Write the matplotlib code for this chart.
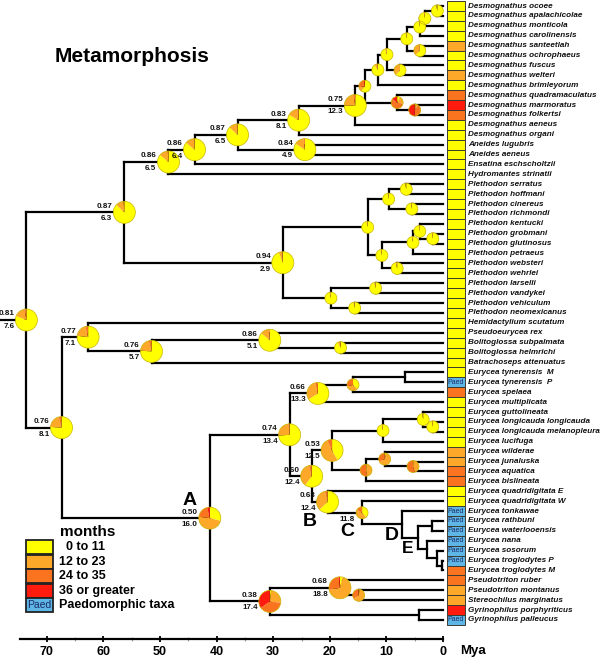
import matplotlib
matplotlib.use("Agg")
import matplotlib.pyplot as plt
import matplotlib.transforms as mtransforms
from matplotlib.patches import Wedge, Circle, Rectangle
from matplotlib.collections import LineCollection

plt.rcParams['font.family'] = ['Liberation Sans', 'DejaVu Sans']

# ---------------- data ----------------
TAXA = [
    "Desmognathus ocoee", "Desmognathus apalachicolae", "Desmognathus monticola",
    "Desmognathus carolinensis", "Desmognathus santeetlah", "Desmognathus ochrophaeus",
    "Desmognathus fuscus", "Desmognathus welteri", "Desmognathus brimleyorum",
    "Desmognathus quadramaculatus", "Desmognathus marmoratus", "Desmognathus folkertsi",
    "Desmognathus aeneus", "Desmognathus organi", "Aneides lugubris", "Aneides aeneus",
    "Ensatina eschscholtzii", "Hydromantes strinatii", "Plethodon serratus",
    "Plethodon hoffmani", "Plethodon cinereus", "Plethodon richmondi", "Plethodon kentucki",
    "Plethodon grobmani", "Plethodon glutinosus", "Plethodon petraeus", "Plethodon websteri",
    "Plethodon wehrlei", "Plethodon larselli", "Plethodon vandykei", "Plethodon vehiculum",
    "Plethodon neomexicanus", "Hemidactylium scutatum", "Pseudoeurycea rex",
    "Bolitoglossa subpalmata", "Bolitoglossa helmrichi", "Batrachoseps attenuatus",
    "Eurycea tynerensis  M", "Eurycea tynerensis  P", "Eurycea spelaea",
    "Eurycea multiplicata", "Eurycea guttolineata", "Eurycea longicauda longicauda",
    "Eurycea longicauda melanopleura", "Eurycea lucifuga", "Eurycea wilderae",
    "Eurycea junaluska", "Eurycea aquatica", "Eurycea bislineata",
    "Eurycea quadridigitata E", "Eurycea quadridigitata W", "Eurycea tonkawae",
    "Eurycea rathbuni", "Eurycea waterlooensis", "Eurycea nana", "Eurycea sosorum",
    "Eurycea troglodytes P", "Eurycea troglodytes M", "Pseudotriton ruber",
    "Pseudotriton montanus", "Stereochilus marginatus", "Gyrinophilus porphyriticus",
    "Gyrinophilus palleucus",
]

# 0: 0-11, 1: 12-23, 2: 24-35, 3: 36+, 4: paedomorphic
TIP_STATE = [0, 0, 0, 0, 1, 0, 0, 1, 0, 2, 3, 2, 0, 0, 0, 0, 0, 0,
             0, 0, 0, 0, 0, 0, 0, 0, 0, 0, 0, 0, 0, 0,
             0, 0, 0, 0, 0, 0, 4, 2, 0, 0, 0, 0, 0, 1, 1, 2, 2, 0, 0,
             4, 4, 4, 4, 4, 4, 2, 2, 1, 1, 3, 4]

# tree topology: internal node -> children (int = tip row, str = internal node)
CHILDREN = {
    "d1": [0, 1], "d2": ["d1", 2], "d3": ["d2", 3], "d4": [4, 5], "d5": ["d3", "d4"],
    "d6": [6, 7], "d7": ["d5", "d6"], "d8": ["d7", 8], "d9": [10, 11], "d10": [9, "d9"],
    "d11": ["d8", "d10"], "d12": ["d11", 12], "d13": ["d12", 13], "an": [14, 15],
    "d14": ["d13", "an"], "d15": ["d14", 16], "d16": ["d15", 17],
    "p1": [18, 19], "p2": [20, 21], "p3": ["p1", "p2"], "p4": [23, 24], "p5": [22, "p4"],
    "p6": ["p5", 25], "p7": [26, 27], "p8": ["p6", "p7"], "p9": ["p3", "p8"],
    "p10": [28, 29], "p11": [30, 31], "p12": ["p10", "p11"], "p13": ["p9", "p12"],
    "t1": ["d16", "p13"],
    "b1": [34, 35], "b2": [33, "b1"], "b3": ["b2", 36], "b4": [32, "b3"],
    "e1": [37, 38], "e2": ["e1", 39], "e3": ["e2", 40], "e4": [42, 43], "e5": [41, "e4"],
    "e6": ["e5", 44], "e7": [46, 47], "e8": [45, "e7"], "e9": ["e8", 48],
    "e10": ["e6", "e9"], "e11": [56, 57], "e12": [55, "e11"], "e13": [54, "e12"],
    "e14": [52, 53], "e15": ["e14", "e13"], "e16": [51, "e15"], "e17": [50, "e16"],
    "e18": [49, "e17"], "e19": ["e10", "e18"], "e20": ["e3", "e19"],
    "s1": [59, 60], "s2": [58, "s1"], "g1": [61, 62], "s3": ["s2", "g1"],
    "A": ["e20", "s3"], "b5": ["b4", "A"], "root": ["t1", "b5"],
}

NODE_AGE = {
    "d1": 1.0, "d2": 3.2, "d3": 4.1, "d4": 4.1, "d5": 6.4, "d6": 7.6, "d7": 9.9,
    "d8": 11.5, "d9": 5.0, "d10": 8.1, "d11": 13.8, "d12": 15.5, "d13": 25.5,
    "an": 24.4, "d14": 36.3, "d15": 43.9, "d16": 48.5,
    "p1": 6.5, "p2": 5.5, "p3": 9.6, "p4": 1.8, "p5": 4.1, "p6": 5.3, "p7": 8.1,
    "p8": 10.8, "p9": 13.3, "p10": 11.9, "p11": 15.6, "p12": 19.8, "p13": 28.3,
    "t1": 56.3, "b1": 18.1, "b2": 30.6, "b3": 51.5, "b4": 62.7,
    "e1": 6.7, "e2": 15.9, "e3": 22.1, "e4": 1.8, "e5": 3.5, "e6": 10.6, "e7": 5.3,
    "e8": 10.3, "e9": 13.6, "e10": 19.6, "e11": 0.2, "e12": 1.1, "e13": 2.8,
    "e14": 1.9, "e15": 4.4, "e16": 7.3, "e17": 14.3, "e18": 20.4, "e19": 23.2,
    "e20": 27.1, "s1": 14.9, "s2": 18.2, "g1": 4.2, "s3": 30.6, "A": 41.2,
    "b5": 67.4, "root": 73.6,
}

# ancestral state probabilities: [0-11, 12-23, 24-35, 36+]
NODE_PIE = {
    "root": [.81, .16, .03, 0], "t1": [.87, .12, .01, 0], "d16": [.86, .13, .01, 0],
    "d15": [.86, .13, .01, 0], "d14": [.87, .12, .01, 0], "d13": [.83, .15, .02, 0],
    "an": [.84, .14, .02, 0], "d12": [.75, .22, .03, 0], "d11": [.60, .12, .25, .03],
    "d10": [.08, .20, .57, .15], "d9": [.03, .07, .40, .50], "d8": [.90, .09, .01, 0],
    "d7": [.95, .05, 0, 0], "d6": [.62, .38, 0, 0], "d5": [.97, .03, 0, 0],
    "d4": [.62, .38, 0, 0], "d3": [.97, .03, 0, 0], "d2": [.97, .03, 0, 0],
    "d1": [.97, .03, 0, 0],
    "p13": [.94, .05, .01, 0], "p12": [.96, .04, 0, 0], "p11": [.96, .04, 0, 0],
    "p10": [.96, .04, 0, 0], "p9": [.97, .03, 0, 0], "p8": [.97, .03, 0, 0],
    "p7": [.96, .04, 0, 0], "p6": [.97, .03, 0, 0], "p5": [.97, .03, 0, 0],
    "p4": [.97, .03, 0, 0], "p3": [.97, .03, 0, 0], "p2": [.97, .03, 0, 0],
    "p1": [.97, .03, 0, 0],
    "b5": [.76, .20, .04, 0], "b4": [.77, .19, .04, 0], "b3": [.76, .20, .04, 0],
    "b2": [.86, .13, .01, 0], "b1": [.92, .07, .01, 0],
    "A": [.29, .48, .19, .04], "e20": [.74, .24, .02, 0], "e3": [.66, .30, .04, 0],
    "e2": [.37, .33, .30, 0], "e19": [.60, .36, .04, 0], "e10": [.42, .51, .07, 0],
    "e6": [.97, .03, 0, 0], "e5": [.97, .03, 0, 0], "e4": [.97, .03, 0, 0],
    "e9": [.02, .45, .53, 0], "e8": [.04, .64, .32, 0], "e7": [.02, .43, .55, 0],
    "e18": [.63, .33, .04, 0], "e17": [.38, .45, .17, 0],
    "s3": [.02, .25, .38, .35], "s2": [.04, .68, .26, .02], "s1": [.03, .62, .33, .02],
}

# support / age labels (top, bottom)
NODE_LABEL = {
    "root": ("0.81", "7.6"), "t1": ("0.87", "6.3"), "d16": ("0.86", "6.5"),
    "d15": ("0.86", "6.4"), "d14": ("0.87", "6.5"), "d13": ("0.83", "8.1"),
    "an": ("0.84", "4.9"), "d12": ("0.75", "12.3"), "p13": ("0.94", "2.9"),
    "b5": ("0.76", "8.1"), "b4": ("0.77", "7.1"), "b3": ("0.76", "5.7"),
    "b2": ("0.86", "5.1"), "A": ("0.50", "16.0"), "e20": ("0.74", "13.4"),
    "e3": ("0.66", "13.3"), "e19": ("0.60", "12.4"), "e10": ("0.53", "12.5"),
    "e18": ("0.63", "12.4"), "e17": ("", "11.8"), "s3": ("0.38", "17.4"),
    "s2": ("0.68", "18.8"),
}
BIG_PIES = set(NODE_LABEL) - {"e17"}

CLADE_LETTERS = {"A": "A", "e18": "B", "e17": "C", "e16": "D", "e15": "E"}
LETTER_OFFSET = {"A": (-20, 18), "e18": (-18, -19), "e17": (-15, -19),
                 "e16": (-10, -11), "e15": (-10, -11)}

STATE_COLORS = ["#FFFF00", "#FDA829", "#FA7420", "#FF1C0E", "#5DB6E6"]
LEGEND_LABELS = ["  0 to 11", "12 to 23", "24 to 35", "36 or greater", "Paedomorphic taxa"]
XTICKS = [70, 60, 50, 40, 30, 20, 10, 0]

# ---------------- figure ----------------
DPI = 100
fig = plt.figure(figsize=(6.0, 6.58), dpi=DPI)
ax = fig.add_axes([0, 0, 1, 1])
PX_PER_MY = 5.66
ROW_PX = 9.903
ax.set_xlim(443 / PX_PER_MY, (443 - 600) / PX_PER_MY)
ax.set_ylim(652 / ROW_PX, -6 / ROW_PX)

segments = []
node_pos = {}


def layout(n):
    if isinstance(n, int):
        return 0.0, float(n)
    t = NODE_AGE[n]
    cp = [layout(k) for k in CHILDREN[n]]
    ys = [c[1] for c in cp]
    y = (ys[0] + ys[-1]) / 2.0
    segments.append([(t, min(ys)), (t, max(ys))])
    for cx, cy in cp:
        segments.append([(t, cy), (cx, cy)])
    node_pos[n] = (t, y)
    return t, y


rx, ry = layout("root")
segments.append([(ax.get_xlim()[0], ry), (rx, ry)])
lc = LineCollection(segments, colors="black", linewidths=1.6, capstyle="projecting", zorder=2)
ax.add_collection(lc)


def draw_pie(x, y, fracs, r_px):
    tr = fig.dpi_scale_trans + mtransforms.ScaledTranslation(x, y, ax.transData)
    r = r_px / DPI
    c = 0.0
    tot = sum(fracs)
    for f, col in zip(fracs, STATE_COLORS):
        f = f / tot
        if f <= 0:
            continue
        ax.add_patch(Wedge((0, 0), r, 90 - 360 * (c + f), 90 - 360 * c,
                           facecolor=col, edgecolor="none", transform=tr, zorder=3))
        c += f
    ax.add_patch(Circle((0, 0), r, fill=False, edgecolor="#C9B400", lw=0.5,
                        transform=tr, zorder=4))


for name, fr in NODE_PIE.items():
    x, y = node_pos[name]
    draw_pie(x, y, fr, 11 if name in BIG_PIES else 6)

# node labels
for name, (top, bot) in NODE_LABEL.items():
    x, y = node_pos[name]
    r_px = 11 if name in BIG_PIES else 6
    dx = -(r_px + 1) * 72 / DPI
    if top:
        ax.annotate(top, (x, y), xytext=(dx, 4.4), textcoords="offset points",
                    ha="right", va="center", fontsize=5.8, fontweight="bold", color="#111111")
    ax.annotate(bot, (x, y), xytext=(dx, -4.6), textcoords="offset points",
                ha="right", va="center", fontsize=5.8, fontweight="bold", color="#111111")

# clade letters
for name, letter in CLADE_LETTERS.items():
    x, y = node_pos[name]
    ox, oy = LETTER_OFFSET[name]
    ax.annotate(letter, (x, y), xytext=(ox * 72 / DPI, oy * 72 / DPI), textcoords="offset points",
                ha="center", va="center", fontsize=14 if letter != "E" else 12.5,
                fontweight="bold")

# tip state boxes
rows = list(range(len(TAXA)))
box_right = -0.7
box_w = 3.2
ax.barh(rows, [box_w] * len(rows), left=box_right - box_w,
        height=1.0, color=[STATE_COLORS[s] for s in TIP_STATE],
        edgecolor="#3c3c30", linewidth=0.7, zorder=2)
for i, s in enumerate(TIP_STATE):
    if s == 4:
        ax.text(box_right - box_w / 2, i, "Paed", ha="center", va="center",
                fontsize=5, color="#1b2b66", zorder=3)
for i, name in enumerate(TAXA):
    ax.text(-4.4, i, name, ha="left", va="center", fontsize=5.9,
            fontweight="bold", fontstyle="italic", color="#111111")

# time axis
for sp in ["left", "right", "top"]:
    ax.spines[sp].set_visible(False)
ax.spines["bottom"].set_position(("data", 633 / ROW_PX))
ax.spines["bottom"].set_bounds(0, 74.7)
ax.spines["bottom"].set_linewidth(1.6)
ax.set_xticks(XTICKS)
ax.set_xticklabels([str(t) for t in XTICKS], fontsize=9, fontweight="bold")
ax.set_xticks([65, 55, 45, 35, 25, 15, 5], minor=True)
ax.tick_params(axis="x", which="major", direction="inout", length=5, width=1.3, pad=2.5)
ax.tick_params(axis="x", which="minor", direction="inout", length=2.5, width=0.8, color="#999999")
ax.set_yticks([])
fig.text(460 / 600, 1 - 651 / 658, "Mya", fontsize=9.5, fontweight="bold", va="center", ha="left")

# title
fig.text(132 / 600, 1 - 57 / 658, "Metamorphosis", fontsize=15, fontweight="bold",
         ha="center", va="center")

# legend
fig.text(60 / 600, 1 - 532 / 658, "months", fontsize=11, fontweight="bold", va="center", ha="left")
for k, (lab, col) in enumerate(zip(LEGEND_LABELS, STATE_COLORS)):
    yc = 547 + k * 14.6
    fig.patches.append(Rectangle((26 / 600, 1 - (yc + 7) / 658), 27 / 600, 14 / 658,
                                 transform=fig.transFigure, facecolor=col,
                                 edgecolor="#222222", lw=1.3))
    if k == 4:
        fig.text(39.5 / 600, 1 - yc / 658, "Paed", fontsize=7.5, color="#1b2b66",
                 ha="center", va="center")
    fig.text(59 / 600, 1 - yc / 658, lab, fontsize=9, fontweight="bold", va="center", ha="left")

fig.savefig("out.png", dpi=DPI)
